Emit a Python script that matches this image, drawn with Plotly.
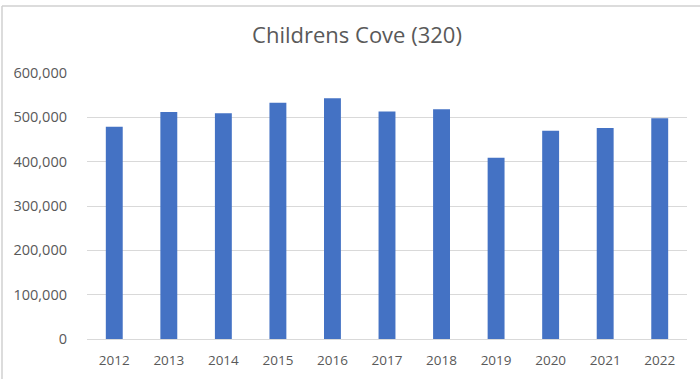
import plotly.graph_objects as go

# Annual figures for Childrens Cove (site 320)
years = ["2012", "2013", "2014", "2015", "2016", "2017", "2018", "2019", "2020", "2021", "2022"]
visitors = [479000, 512000, 509000, 533000, 543000, 513000, 518000, 409000, 470000, 476000, 498000]
y_ticks = [0, 100000, 200000, 300000, 400000, 500000, 600000]
y_tick_labels = ["0", "100,000", "200,000", "300,000", "400,000", "500,000", "600,000"]

text_color = "#595959"
grid_color = "#d9d9d9"
font_family = "Open Sans, Noto Sans, sans-serif"

fig = go.Figure(
    go.Bar(
        x=years,
        y=visitors,
        marker=dict(color="#4472C4", line=dict(width=0)),
        hoverinfo="x+y",
    )
)

W, H = 700, 379
L, R, T, B = 87, 13, 73, 40

fig.update_layout(
    width=W,
    height=H,
    margin=dict(l=L, r=R, t=T, b=B, pad=0, autoexpand=False),
    paper_bgcolor="white",
    plot_bgcolor="white",
    bargap=0.69,
    showlegend=False,
    font=dict(family=font_family, color=text_color, size=13.5),
    title=dict(
        text="Childrens Cove (320)",
        x=357 / W,
        xanchor="center",
        y=1 - 35 / H,
        yanchor="middle",
        font=dict(size=22, color=text_color, family=font_family),
    ),
    xaxis=dict(
        automargin=False,
        showgrid=False,
        showline=True,
        linecolor=grid_color,
        linewidth=1,
        ticks="",
        ticklabelstandoff=9,
        tickfont=dict(size=13.5, color=text_color),
    ),
    yaxis=dict(
        automargin=False,
        range=[0, 600000],
        tickvals=y_ticks,
        ticktext=y_tick_labels,
        showgrid=True,
        gridcolor=grid_color,
        gridwidth=1,
        zeroline=False,
        showline=False,
        ticks="",
        ticklabelstandoff=19,
        tickfont=dict(size=14.5, color=text_color),
    ),
    shapes=[
        # chart frame: top and left edges
        dict(type="line", xref="paper", yref="paper",
             x0=-(L - 2) / (W - L - R), x1=(W - L) / (W - L - R),
             y0=1 + (T - 6) / (H - T - B), y1=1 + (T - 6) / (H - T - B),
             line=dict(color="#d0d0d0", width=1.5)),
        dict(type="line", xref="paper", yref="paper",
             x0=-(L - 2) / (W - L - R), x1=-(L - 2) / (W - L - R),
             y0=-B / (H - T - B), y1=1 + (T - 6) / (H - T - B),
             line=dict(color="#d0d0d0", width=1.5)),
    ],
)

fig.write_html("out.html")
